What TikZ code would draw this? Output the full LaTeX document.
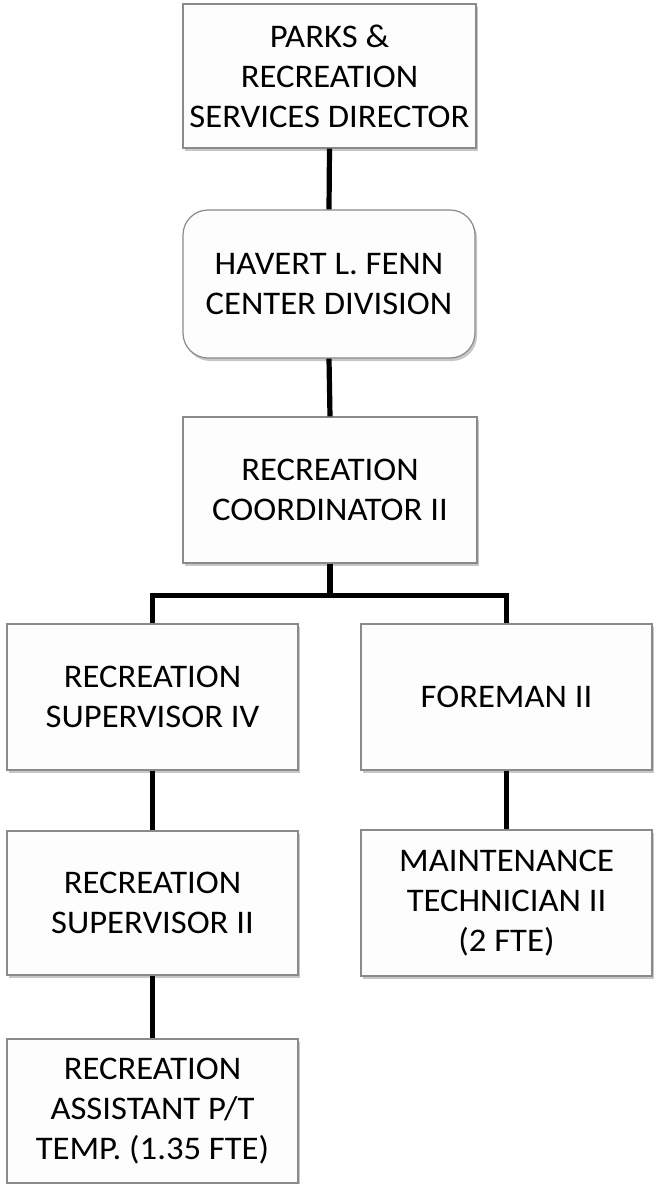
\documentclass[tikz,border=0pt]{standalone}
\usepackage{fontspec}
\setmainfont{Carlito}[FakeStretch=1.05]
\usetikzlibrary{shadows}
\definecolor{boxfill}{HTML}{FDFDFD}
\definecolor{boxline}{HTML}{8A8A8A}
\begin{document}
\begin{tikzpicture}[x=1pt,y=-1pt,
  orgbox/.style={draw=boxline, line width=1.2pt, fill=boxfill,
    align=center, inner sep=0pt, text=black,
    font=\fontsize{33}{40}\selectfont,
    drop shadow={shadow xshift=2pt, shadow yshift=-3pt, opacity=0.22, fill=black}},
  link/.style={line width=5.2pt, black}]
\useasboundingbox (0,0) rectangle (654,1184);

% boxes
\node[orgbox, minimum width=293pt, minimum height=144pt] (dir) at (329.5,76)
  {PARKS \&\\RECREATION\\SERVICES DIRECTOR};
\node[orgbox, rounded corners=25pt, minimum width=292pt, minimum height=148pt] (div) at (329,284)
  {HAVERT L. FENN\\CENTER DIVISION};
\node[orgbox, minimum width=294pt, minimum height=146pt] (coord) at (330,490)
  {RECREATION\\COORDINATOR II};
\node[orgbox, minimum width=291pt, minimum height=146pt] (supiv) at (152.5,697)
  {RECREATION\\SUPERVISOR IV};
\node[orgbox, minimum width=291pt, minimum height=146pt] (fore) at (506.5,697)
  {FOREMAN II};
\node[orgbox, minimum width=291pt, minimum height=144pt] (supii) at (152.5,903)
  {RECREATION\\SUPERVISOR II};
\node[orgbox, minimum width=291pt, minimum height=146pt] (maint) at (506.5,903)
  {MAINTENANCE\\TECHNICIAN II\\(2 FTE)};
\node[orgbox, minimum width=291pt, minimum height=144pt] (asst) at (152.5,1111)
  {RECREATION\\ASSISTANT P/T\\TEMP. (1.35 FTE)};

% connectors
\draw[link] (dir.south) -- (div.north);
\draw[link] (div.south) -- (coord.north);
\draw[link] (coord.south) -- ++(0,32) coordinate (bus);
\draw[link] (supiv.north) |- (bus) -| (fore.north);
\draw[link] (supiv.south) -- (supii.north);
\draw[link] (supii.south) -- (asst.north);
\draw[link] (fore.south) -- (maint.north);
\end{tikzpicture}
\end{document}
